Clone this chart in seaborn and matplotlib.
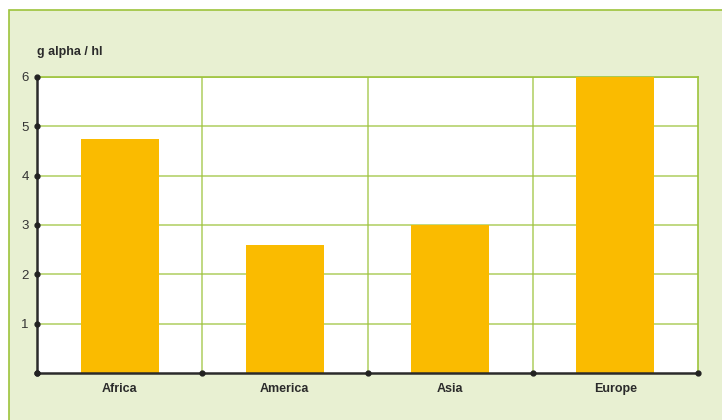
import matplotlib
matplotlib.use("Agg")
import matplotlib.pyplot as plt
import seaborn as sns
import pandas as pd
from matplotlib.patches import Rectangle

categories = ["Africa", "America", "Asia", "Europe"]
values = [4.75, 2.6, 3.0, 6.0]
yticks = [1, 2, 3, 4, 5, 6]
ylabel = "g alpha / hl"

sns.set_theme(style="white")
fam = ["Liberation Sans Narrow", "Liberation Sans", "DejaVu Sans"]
plt.rcParams["font.family"] = fam

W, H = 722, 420
fig = plt.figure(figsize=(W / 100, H / 100), dpi=100, facecolor="white")
bg = "#E8F0D2"
green = "#9DC33B"
fig.patches.append(Rectangle((9 / W, -0.1), 1.2, (H - 10) / H + 0.1, transform=fig.transFigure,
                             facecolor=bg, edgecolor=green, linewidth=1.2, zorder=-10))

ax = fig.add_axes([37 / W, 1 - 373 / H, (698 - 37) / W, (373 - 77) / H])
ax.set_facecolor("white")

df = pd.DataFrame({"region": categories, "value": values})
sns.barplot(data=df, x="region", y="value", color="#FABB00", saturation=1, width=0.472,
            linewidth=0, edgecolor="none", ax=ax, zorder=3)

ax.set_xlim(-0.5, len(categories) - 0.5)
ax.set_ylim(0, 6)
ax.set_yticks(yticks)
ax.set_yticklabels([str(t) for t in yticks])
for t in yticks:
    ax.axhline(t, color=green, lw=1.2, alpha=0.75, zorder=1)
for b in [i + 0.5 for i in range(len(categories) - 1)]:
    ax.axvline(b, color=green, lw=1.2, alpha=0.75, zorder=1)

for s in ["top", "right"]:
    ax.spines[s].set_color(green)
    ax.spines[s].set_linewidth(1.2)
for s in ["left", "bottom"]:
    ax.spines[s].set_color("#2b2b2b")
    ax.spines[s].set_linewidth(1.8)
    ax.spines[s].set_zorder(5)

ax.tick_params(axis="both", length=0, colors="#333333")
ax.tick_params(axis="y", pad=6, labelsize=9.5)
ax.tick_params(axis="x", pad=7, labelsize=9)
for lab in ax.get_xticklabels():
    lab.set_fontweight("bold")
    lab.set_color("#2b2b2b")
ax.set_xlabel("")
ax.set_ylabel("")

# dots on axes
ax.plot([-0.5] * (len(yticks) + 1), [0] + yticks, "o", color="#222222", ms=3.5, clip_on=False, zorder=6)
ax.plot([i - 0.5 for i in range(len(categories) + 1)], [0] * (len(categories) + 1), "o",
        color="#222222", ms=3.5, clip_on=False, zorder=6)

fig.text(37 / W, 1 - 52 / H, ylabel, fontsize=9, fontweight="bold", color="#2b2b2b",
         ha="left", va="center")

fig.savefig("out.png", dpi=100, facecolor="white")
